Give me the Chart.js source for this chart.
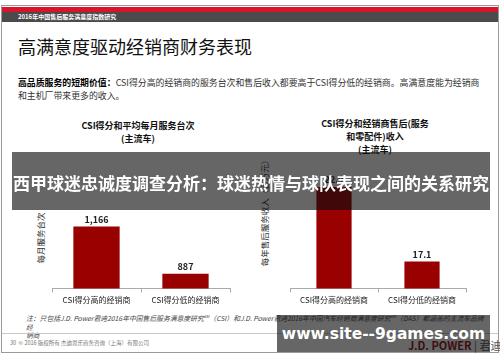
<!DOCTYPE html>
<html>
<head>
<meta charset="utf-8">
<script src="https://cdn.jsdelivr.net/npm/chart.js@4/dist/chart.umd.min.js"></script>
<style>
    body { margin: 0; width: 500px; height: 362px; background: #fff; position: relative; overflow: hidden;
           font-family: "Noto Sans CJK SC", "Noto Sans", sans-serif; color: #222; }
    .abs { position: absolute; }
    #page { left: 1px; top: 5px; width: 496px; height: 346px; border: 1px solid #9a9a9a; }
    #redband { left: 2px; top: 7px; width: 496px; height: 5px; background: #d7142a; }
    #greyband { left: 2px; top: 12px; width: 496px; height: 10px; background: #4b4b4b; }
    #greyband span { position: absolute; left: 16px; top: 0; font-size: 6px; line-height: 10px; color: #fff; font-weight: bold; }
    #title { left: 18px; top: 34px; font-size: 18px; line-height: 24px; color: #111; }
    #intro { left: 18px; top: 76px; width: 470px; font-size: 8.9px; line-height: 13px; color: #333; }
    #intro b { color: #000; }
    .ctitle { font-size: 9px; line-height: 13px; font-weight: bold; text-align: center; color: #111; }
    .ylab { font-size: 8.5px; line-height: 12px; color: #333; white-space: nowrap; text-align: center;
            width: 160px; height: 12px; transform: rotate(-90deg); }
    #note { left: 26px; top: 312px; width: 462px; font-size: 6.8px; line-height: 8.5px; color: #444; font-style: italic; }
    #rule { left: 2px; top: 333px; width: 496px; height: 1px; background: #c8c8c8; }
    #foot { left: 10px; top: 339px; font-size: 5.5px; color: #777; }
    #brand { left: 408px; top: 337px; font-size: 11px; font-weight: bold; color: #8a1020; white-space: nowrap; }
    #banner { left: 12px; top: 152px; width: 478px; height: 58px; background: rgba(12,12,12,0.63); }
    #banner span { position: absolute; left: 0; width: 478px; top: 20px; text-align: center; color: #fff;
                   font-size: 17px; line-height: 22px; font-weight: bold; white-space: nowrap; }
    #mark { left: 277px; top: 315px; width: 213px; height: 37px; background: rgba(12,12,12,0.63); }
    #mark span { position: absolute; left: 0; width: 213px; top: 7px; text-align: center; color: #fff; white-space: nowrap;
                 font-family: "DejaVu Sans", sans-serif; font-size: 15.5px; line-height: 24px; font-weight: bold; }
</style>
</head>
<body>
<div id="page" class="abs"></div>
<div id="redband" class="abs"></div>
<div id="greyband" class="abs"><span>2016年中国售后服务满意度指数研究</span></div>
<div id="title" class="abs">高满意度驱动经销商财务表现</div>
<div id="intro" class="abs"><b>高品质服务的短期价值：</b>CSI得分高的经销商的服务台次和售后收入都要高于CSI得分低的经销商。高满意度能为经销商和主机厂带来更多的收入。</div>

<div class="abs ctitle" style="left:58px; top:119px; width:160px;">CSI得分和平均每月服务台次<br>(主流车)</div>
<div class="abs ctitle" style="left:295px; top:117px; width:160px;">CSI得分和经销商售后(服务<br>和零配件)收入<br>(主流车)</div>

<div class="abs ylab" style="left:-40px; top:232px;">每月服务台次</div>
<div class="abs ylab" style="left:184px; top:205px;">每年售后服务收入（百万元）</div>

<canvas id="chart-visits" class="abs" width="196" height="118" style="left:44px; top:190px;"></canvas>
<canvas id="chart-revenue" class="abs" width="194" height="158" style="left:282px; top:150px;"></canvas>

<div id="note" class="abs">注：只包括J.D. Power君迪2016年中国售后服务满意度研究<sup style="font-size:4px">SM</sup>（CSI）和J.D. Power君迪2016年中国汽车经销商满意度研究<sup style="font-size:4px">SM</sup>（DAS）都涵盖的主流车品牌经<br>销商</div>
<div id="rule" class="abs"></div>
<div id="foot" class="abs">30&nbsp;&nbsp;© 2016 版权所有 杰迪恩乐商务咨询（上海）有限公司</div>
<div id="brand" class="abs">J.D. POWER <span style="color:#555; font-weight:normal">| 君迪</span></div>

<div id="banner" class="abs"><span>西甲球迷忠诚度调查分析：球迷热情与球队表现之间的关系研究</span></div>
<div id="mark" class="abs"><span>www.site--9games.com</span></div>

<script>
// data
var categories = ["CSI得分高的经销商", "CSI得分低的经销商"];
var serviceVisits = [1166, 887];
var visitLabels = ["1,166", "887"];
var serviceRevenue = [22.9, 17.1];
var revenueLabels = ["22.9", "17.1"];

var FONT = '"Noto Sans CJK SC", "Noto Sans", sans-serif';

// value labels above each bar
var barLabels = {
    id: 'barLabels',
    afterDatasetsDraw: function (chart, args, opts) {
        var ctx = chart.ctx;
        var meta = chart.getDatasetMeta(0);
        ctx.save();
        ctx.font = 'bold 9px ' + FONT;
        ctx.fillStyle = '#222';
        ctx.textAlign = 'center';
        ctx.textBaseline = 'middle';
        meta.data.forEach(function (bar, i) {
            ctx.fillText(opts.labels[i], bar.x, bar.y - 7);
        });
        ctx.restore();
    }
};

function makeChart(id, values, labels, min, max, barPct, pad) {
    return new Chart(document.getElementById(id), {
        type: 'bar',
        data: {
            labels: categories,
            datasets: [{
                data: values,
                backgroundColor: '#990000',
                barPercentage: barPct,
                categoryPercentage: 1
            }]
        },
        options: {
            responsive: false,
            animation: false,
            layout: { padding: pad },
            plugins: {
                legend: { display: false },
                tooltip: { enabled: false },
                barLabels: { labels: labels }
            },
            scales: {
                x: {
                    grid: { offset: true, drawOnChartArea: false, drawTicks: true, tickLength: 4, color: '#aaa' },
                    border: { color: '#aaa' },
                    ticks: { color: '#222', padding: 3, font: { size: 8, family: FONT } }
                },
                y: { display: false, min: min, max: max }
            }
        },
        plugins: [barLabels]
    });
}

makeChart('chart-visits', serviceVisits, visitLabels, 800, 1300, 0.52, { left: 8, right: 10, top: 14, bottom: 0 });
makeChart('chart-revenue', serviceRevenue, revenueLabels, 15, 25, 0.4, { left: 8, right: 10, top: 10, bottom: 0 });
</script>
</body>
</html>
